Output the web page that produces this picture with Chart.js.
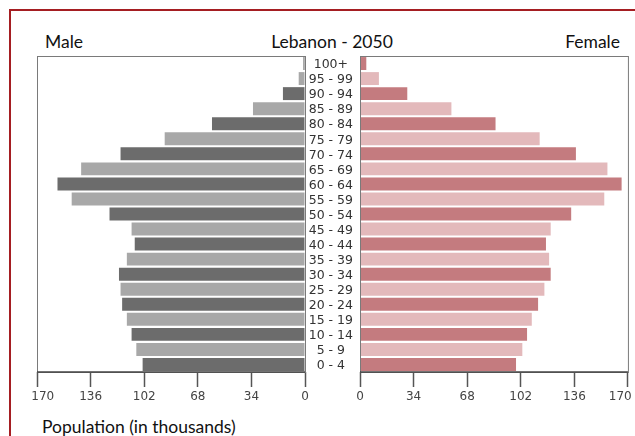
<!DOCTYPE html>
<html>
<head>
<meta charset="utf-8">
<script src="https://cdn.jsdelivr.net/npm/chart.js@4/dist/chart.umd.min.js"></script>
<style>
  html, body { margin: 0; padding: 0; background: #fff; overflow: hidden; }
  body { width: 635px; height: 436px; position: relative; }
  .frame { position: absolute; left: 9px; top: 9px; width: 700px; height: 500px;
           border-left: 2px solid #a51e22; border-top: 2px solid #a51e22; }
  .lbl { position: absolute; font-family: Lato, "Open Sans", sans-serif; font-size: 17.5px; color: #111; white-space: nowrap; }
  canvas { position: absolute; top: 0; }
</style>
</head>
<body>
<div class="frame"></div>
<div class="lbl" style="left:45px; top:31px;">Male</div>
<div class="lbl" style="left:332px; top:31px; transform:translateX(-50%);">Lebanon - 2050</div>
<div class="lbl" style="right:15px; top:31px;">Female</div>
<div class="lbl" style="left:42px; top:416px;">Population (in thousands)</div>
<canvas id="male" width="310" height="436" style="left:0"></canvas>
<canvas id="female" width="345" height="436" style="left:305px"></canvas>
<script>
const ageGroups = ['100+', '95 - 99', '90 - 94', '85 - 89', '80 - 84', '75 - 79', '70 - 74',
  '65 - 69', '60 - 64', '55 - 59', '50 - 54', '45 - 49', '40 - 44', '35 - 39',
  '30 - 34', '25 - 29', '20 - 24', '15 - 19', '10 - 14', '5 - 9', '0 - 4'];
const male = [1, 4, 14, 33, 59, 89, 117, 142, 157, 148, 124, 110, 108, 113, 118, 117, 116, 113, 110, 107, 103];
const female = [4, 12, 30, 58, 86, 114, 137, 157, 166, 155, 134, 121, 118, 120, 121, 117, 113, 109, 106, 103, 99];
const xTicks = [0, 34, 68, 102, 136, 170];

const maleColors = ageGroups.map((_, i) => i % 2 === 0 ? '#6c6c6c' : '#a8a8a8');
const femaleColors = ageGroups.map((_, i) => i % 2 === 0 ? '#c47b7f' : '#e3b9bb');

const tickFont = { family: 'DejaVu Sans', size: 12 };

// outline the plot box
const boxPlugin = {
  id: 'box',
  afterDraw(chart) {
    const a = chart.chartArea;
    const ctx = chart.ctx;
    ctx.save();
    ctx.strokeStyle = '#7a7a7a';
    ctx.lineWidth = 1;
    ctx.strokeRect(a.left + 0.5, a.top + 0.5, a.right - a.left, a.bottom - a.top);
    ctx.strokeStyle = '#444';
    ctx.lineWidth = 1.5;
    ctx.beginPath();
    ctx.moveTo(a.left, a.bottom);
    ctx.lineTo(a.right, a.bottom);
    ctx.stroke();
    ctx.restore();
  }
};

// outer label (170) is nudged inward, like in the original
function xScale(reverse) {
  return {
    min: 0,
    max: 170,
    reverse: reverse,
    afterBuildTicks: s => { s.ticks = xTicks.map(v => ({ value: v })); },
    afterFit: s => { s.height = 64; },
    border: { display: false },
    grid: { drawOnChartArea: false, drawTicks: true, tickLength: 15, color: '#555', tickColor: '#555', tickWidth: 1.5 },
    ticks: {
      font: tickFont, color: '#444', padding: 3, maxRotation: 0,
      callback: v => v === 170 ? (reverse ? '   170' : '170    ') : String(v)
    }
  };
}

new Chart(document.getElementById('male'), {
  type: 'bar',
  data: {
    labels: ageGroups,
    datasets: [{ data: male, backgroundColor: maleColors, barPercentage: 0.86, categoryPercentage: 1 }]
  },
  options: {
    indexAxis: 'y',
    responsive: false,
    animation: false,
    layout: { autoPadding: false, padding: { left: 37, right: 5, top: 56, bottom: 0 } },
    plugins: { legend: { display: false }, tooltip: { enabled: false } },
    scales: {
      x: xScale(true),
      y: { display: false }
    }
  },
  plugins: [boxPlugin]
});

new Chart(document.getElementById('female'), {
  type: 'bar',
  data: {
    labels: ageGroups,
    datasets: [{ data: female, backgroundColor: femaleColors, barPercentage: 0.86, categoryPercentage: 1 }]
  },
  options: {
    indexAxis: 'y',
    responsive: false,
    animation: false,
    layout: { autoPadding: false, padding: { left: 0, right: 22, top: 56, bottom: 0 } },
    plugins: { legend: { display: false }, tooltip: { enabled: false } },
    scales: {
      x: xScale(false),
      y: {
        position: 'left',
        afterFit: s => { s.width = 55; },
        border: { display: false },
        grid: { display: false },
        ticks: { font: { family: 'DejaVu Sans', size: 12.5 }, color: '#333', padding: -1, labelOffset: 1.5, crossAlign: 'center', autoSkip: false }
      }
    }
  },
  plugins: [boxPlugin]
});
</script>
</body>
</html>
